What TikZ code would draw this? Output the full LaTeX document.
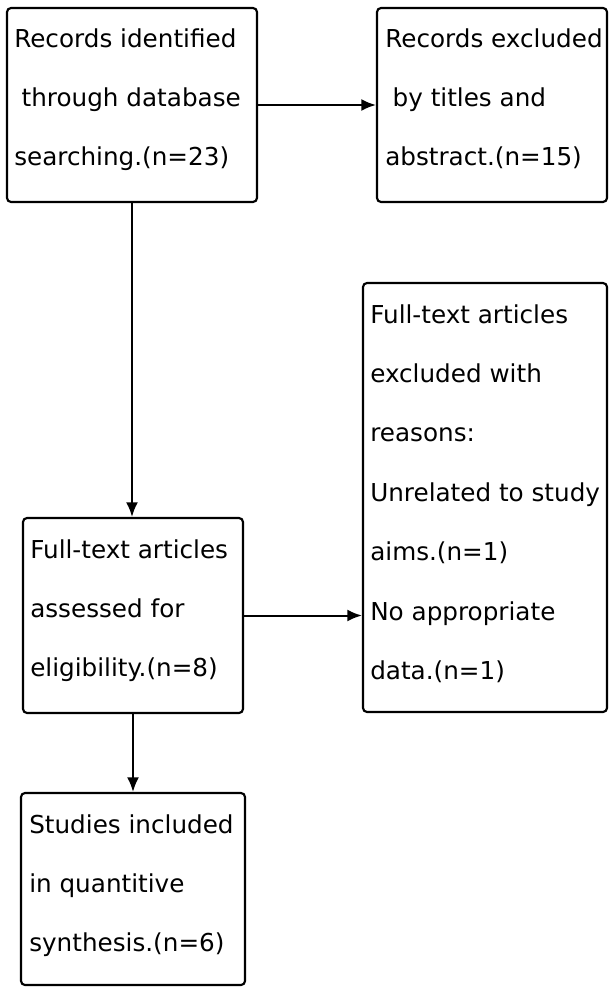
\documentclass[tikz,border=0pt]{standalone}
\usepackage{fontspec}
\setmainfont{DejaVu Sans}
\usetikzlibrary{arrows.meta}
\tikzset{
  box/.style={draw, line width=1.6pt, rectangle, rounded corners=3pt, inner sep=0pt},
  txt/.style={anchor=north west, align=left, inner sep=0pt, font={\fontsize{18.5}{44.6}\selectfont}},
  arr/.style={line width=1.5pt, -{Latex[length=11pt,width=9pt]}}
}
\begin{document}
\begin{tikzpicture}[x=0.75pt,y=-0.75pt]
\useasboundingbox (0,0) rectangle (609,987);
\node[box, minimum width=250*0.75pt, minimum height=194*0.75pt] (b1) at (132,105) {};
\node[box, minimum width=230*0.75pt, minimum height=194*0.75pt] (b2) at (492,105) {};
\node[box, minimum width=220*0.75pt, minimum height=195*0.75pt] (b3) at (133,615.5) {};
\node[box, minimum width=244*0.75pt, minimum height=429*0.75pt] (b4) at (485,497.5) {};
\node[box, minimum width=224*0.75pt, minimum height=192*0.75pt] (b5) at (133,889) {};
\node[txt] (t1) at (14,28) {Records identified\\\hspace*{0.3em}through database\\searching.(n=23)};
\node[txt] (t2) at (385,28) {Records excluded\\\hspace*{0.3em}by titles and\\abstract.(n=15)};
\node[txt] (t3) at (30,539) {Full-text articles\\assessed for\\eligibility.(n=8)};
\node[txt] (t4) at (370,304) {Full-text articles\\excluded with\\reasons:\\Unrelated to study\\aims.(n=1)\\No appropriate\\data.(n=1)};
\node[txt] (t5) at (29,814) {Studies included\\in quantitive\\synthesis.(n=6)};
\draw[arr] (b1.east) -- (b2.west);
\draw[arr] (b1.south) -- (b1.south |- b3.north);
\draw[arr] (b3.east) -- (b3.east -| b4.west);
\draw[arr] (b3.south) -- (b3.south |- b5.north);
\end{tikzpicture}
\end{document}
